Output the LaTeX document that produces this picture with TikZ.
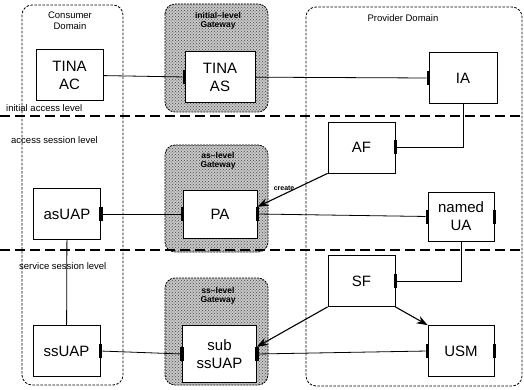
\documentclass[tikz,border=0pt]{standalone}
\usepackage{fontspec}
\setmainfont{Liberation Sans}
\usetikzlibrary{arrows.meta,patterns}

\begin{document}
\begin{tikzpicture}[
  x=1pt, y=-1pt,
  every node/.style={font=\fontsize{15}{18}\selectfont},
  box/.style={draw, thick, fill=white, align=center, inner sep=2pt, minimum width=67pt, minimum height=51pt},
  port/.style={fill=black, inner sep=0pt, minimum width=3.5pt, minimum height=14pt},
  domainbox/.style={draw, line width=0.8pt, dash pattern=on 2.5pt off 1.5pt, rounded corners=10pt},
  gateway/.style={draw, line width=0.8pt, dash pattern=on 2pt off 1pt, rounded corners=10pt, fill=gray!45, postaction={pattern=crosshatch dots, pattern color=black!70}},
  lvl/.style={line width=1.5pt, dash pattern=on 10pt off 5pt},
  lbl/.style={font=\fontsize{9.5}{11}\selectfont, inner sep=1pt},
  gwlbl/.style={font=\fontsize{8.5}{9.5}\selectfont\bfseries, align=center, inner sep=1pt},
  wire/.style={line width=0.8pt},
  arr/.style={-{Stealth[length=11pt,width=8pt]}, line width=1.1pt}
]
\useasboundingbox (0,0) rectangle (524,390);

% ---------------- gateways and domains ----------------
\draw[gateway] (165,4) rectangle (268,112);
\draw[gateway] (165,145) rectangle (268,252);
\draw[gateway] (165,278) rectangle (268,385);
\draw[domainbox] (22,5) rectangle (123,385);
\draw[domainbox] (306,7) rectangle (522,386);

\node[lbl, align=center] (cdom) at (70,21) {Consumer\\Domain};
\node[lbl] (pdom) at (403,18) {Provider Domain};
\node[gwlbl] (gw1) at (218,21) {initial--level\\Gateway};
\node[gwlbl] (gw2) at (218,161) {as--level\\Gateway};
\node[gwlbl] (gw3) at (218,296) {ss--level\\Gateway};

% ---------------- levels ----------------
\draw[lvl] (0,116) -- (524,116);
\draw[lvl] (0,250) -- (524,250);
\node[lbl, anchor=west] (l1) at (5,108) {initial access level};
\node[lbl, anchor=west] (l2) at (10,140) {access session level};
\node[lbl, anchor=west] (l3) at (18,266) {service session level};

% ---------------- boxes ----------------
\node[box] (ac) at (69.5,75) {TINA\\AC};
\node[box, minimum width=70pt] (as) at (220,77) {TINA\\AS};
\node[box, minimum width=68pt] (ia) at (463,78) {IA};
\node[box] (af) at (361.5,147.5) {AF};
\node[box] (asuap) at (67,214) {asUAP};
\node[box, minimum width=74pt, minimum height=48pt] (pa) at (220,214) {PA};
\node[box, minimum width=66pt, minimum height=49pt] (nua) at (461,216.5) {named\\UA};
\node[box] (sf) at (361.5,281) {SF};
\node[box] (ssuap) at (66.5,351) {ssUAP};
\node[box, minimum width=74pt, minimum height=57pt] (sub) at (219.5,354) {sub\\ssUAP};
\node[box, minimum width=66pt] (usm) at (461,351) {USM};

% ports
\node[port] (as-w) at (as.west) {};
\node[port] (ia-w) at (ia.west) {};
\node[port] (af-e) at (af.east) {};
\node[port] (asuap-e) at (asuap.east) {};
\node[port] (pa-w) at (pa.west) {};
\node[port] (pa-e) at (pa.east) {};
\node[port] (nua-w) at (nua.west) {};
\node[port] (nua-e) at (nua.east) {};
\node[port] (sf-e) at (sf.east) {};
\node[port] (ssuap-e) at (ssuap.east) {};
\node[port] (sub-w) at (sub.west) {};
\node[port] (sub-e) at (sub.east) {};
\node[port] (usm-w) at (usm.west) {};
\node[port] (usm-e) at (usm.east) {};

% ---------------- connections ----------------
\draw[wire] (ac) -- (as-w);
\draw[wire] (as) -- (ia-w);
\draw[wire] (ia.south) |- (af-e);
\draw[wire] (asuap-e) -- (pa-w);
\draw[wire] (pa-e) -- (nua-w);
\draw[wire] (nua.south) |- (sf-e);
\draw[wire] (asuap) -- (ssuap);
\draw[wire] (ssuap-e) -- (sub-w);
\draw[wire] (sub-e) -- (usm-w);

\draw[arr] (af.south west) -- node[pos=0.62, above, font=\fontsize{7}{8}\selectfont\bfseries, inner sep=3pt] {create} (pa-e.north);
\draw[arr] (sf.south west) -- (sub-e.north);
\draw[arr] (sf.south east) -- (usm.north west);

\end{tikzpicture}
\end{document}
